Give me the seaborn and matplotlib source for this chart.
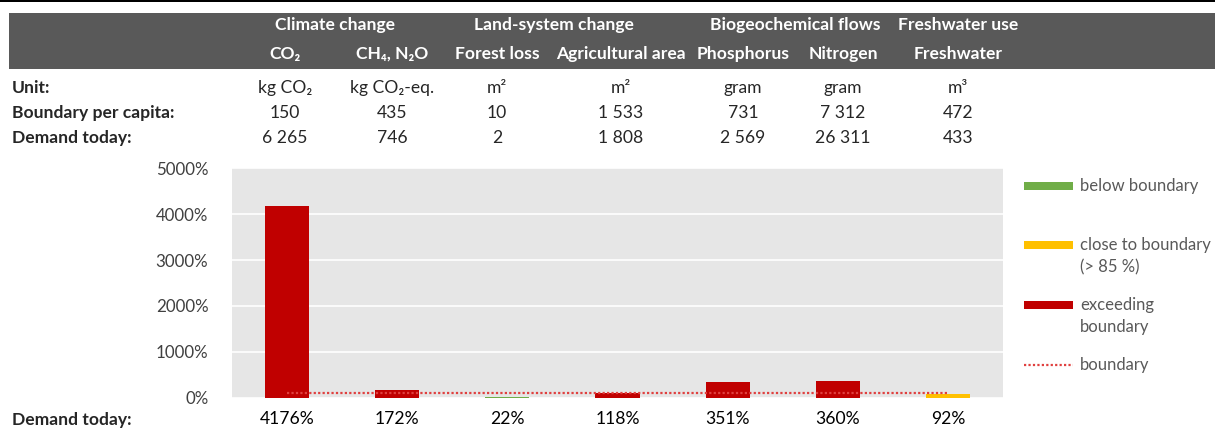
import matplotlib
matplotlib.use("Agg")
import matplotlib.pyplot as plt
from matplotlib.patches import Rectangle
from matplotlib.lines import Line2D
import pandas as pd
import seaborn as sns

# ── data ────────────────────────────────────────────────────
groups      = ["Climate change", "Land-system change", "Biogeochemical flows", "Freshwater use"]
categories  = ["CO₂", "CH₄, N₂O", "Forest loss", "Agricultural area",
               "Phosphorus", "Nitrogen", "Freshwater"]
units       = ["kg CO₂", "kg CO₂-eq.", "m²", "m²", "gram", "gram", "m³"]
boundary    = [150, 435, 10, 1533, 731, 7312, 472]
demand      = [6265, 746, 2, 1808, 2569, 26311, 433]
demand_pct  = [4176, 172, 22, 118, 351, 360, 92]
status      = ["exceeding", "exceeding", "below", "exceeding",
               "exceeding", "exceeding", "close"]
boundary_pct = 100
yticks      = [0, 1000, 2000, 3000, 4000, 5000]

# ── layout (figure pixels) ──────────────────────────────────
W, H = 1215, 433
col_x   = [285, 392, 497, 621, 743, 843, 958]
group_x = [335, 554, 795, 958]
FS = 12.6

colors = {"below": "#70AD47", "close": "#FFC000", "exceeding": "#C00000"}
line_color = "#E0403F"

sns.set_style("white")
plt.rcParams["font.family"] = ["Lato", "DejaVu Sans"]

fig = plt.figure(figsize=(W / 100, H / 100), dpi=100)


def fx(x):
    return x / W


def fy(y):
    return 1 - y / H


def ftext(x, y, s, **kw):
    kw.setdefault("fontsize", FS)
    kw.setdefault("ha", "center")
    kw.setdefault("va", "center")
    fig.text(fx(x), fy(y), s, transform=fig.transFigure, **kw)


def fmt(n):
    return f"{n:,}".replace(",", " ")


# top rule + header band
fig.add_artist(Rectangle((0, fy(2)), 1, fy(0) - fy(2), transform=fig.transFigure,
                         color="black", lw=0))
fig.add_artist(Rectangle((fx(9), fy(69)), 1 - fx(9), fy(13) - fy(69),
                         transform=fig.transFigure, color="#595959", lw=0))

for x, g in zip(group_x, groups):
    ftext(x, 25, g, color="white", fontweight="bold")
for x, c in zip(col_x, categories):
    ftext(x, 54, c, color="white", fontweight="bold")

# table rows
ftext(12, 93, "Unit:", ha="left", va="baseline", fontweight="bold")
ftext(12, 113, "Boundary per capita:", ha="left", fontweight="bold")
ftext(12, 138, "Demand today:", ha="left", fontweight="bold")
ftext(12, 420, "Demand today:", ha="left", fontweight="bold")
for x, u, b, d in zip(col_x, units, boundary, demand):
    ftext(x, 93, u, va="baseline")
    ftext(x, 113, fmt(b))
    ftext(x, 138, fmt(d))

# ── chart ───────────────────────────────────────────────────
df = pd.DataFrame({"category": categories, "pct": demand_pct, "status": status})

ax = fig.add_axes([fx(232), fy(398), fx(1003) - fx(232), fy(168) - fy(398)])
ax.set_facecolor("#E6E6E6")
sns.barplot(data=df, x="category", y="pct", hue="status", palette=colors,
            order=categories, dodge=False, width=0.4, legend=False,
            saturation=1, linewidth=0, ax=ax, zorder=2)
ax.plot(range(len(categories)), [boundary_pct] * len(categories),
        color=line_color, lw=1.6, ls=(0, (1, 1)), zorder=3)

ax.set_xlim(-0.5, len(categories) - 0.5)
ax.set_ylim(0, 5000)
ax.set_yticks(yticks)
ax.set_yticklabels([f"{t}%" for t in yticks])
ax.set_xticks(range(len(categories)))
ax.set_xticklabels([f"{p}%" for p in demand_pct])
ax.tick_params(axis="x", length=0, pad=9, labelsize=FS, labelcolor="black")
ax.tick_params(axis="y", length=0, pad=17, labelsize=12.2, labelcolor="#404040")
ax.set_xlabel("")
ax.set_ylabel("")
ax.grid(axis="y", color="white", lw=1.2)
ax.set_axisbelow(True)
for s in ax.spines.values():
    s.set_visible(False)

# ── legend ──────────────────────────────────────────────────
legend_items = [
    ("bar", colors["below"], 186, "below boundary", 186),
    ("bar", colors["close"], 245, "close to boundary\n(> 85 %)", 256),
    ("bar", colors["exceeding"], 305, "exceeding\nboundary", 316),
    ("line", line_color, 365, "boundary", 365),
]
for kind, col, yh, label, yt in legend_items:
    if kind == "bar":
        fig.add_artist(Rectangle((fx(1024), fy(yh + 4)), fx(1073) - fx(1024),
                                 fy(yh - 4) - fy(yh + 4), transform=fig.transFigure,
                                 color=col, lw=0))
    else:
        fig.add_artist(Line2D([fx(1024), fx(1073)], [fy(yh), fy(yh)],
                              transform=fig.transFigure, color=col, lw=1.6,
                              ls=(0, (1, 1))))
    ftext(1080, yt, label, ha="left", color="#595959", fontsize=12,
          linespacing=1.5)

fig.savefig("out.png", dpi=100)
